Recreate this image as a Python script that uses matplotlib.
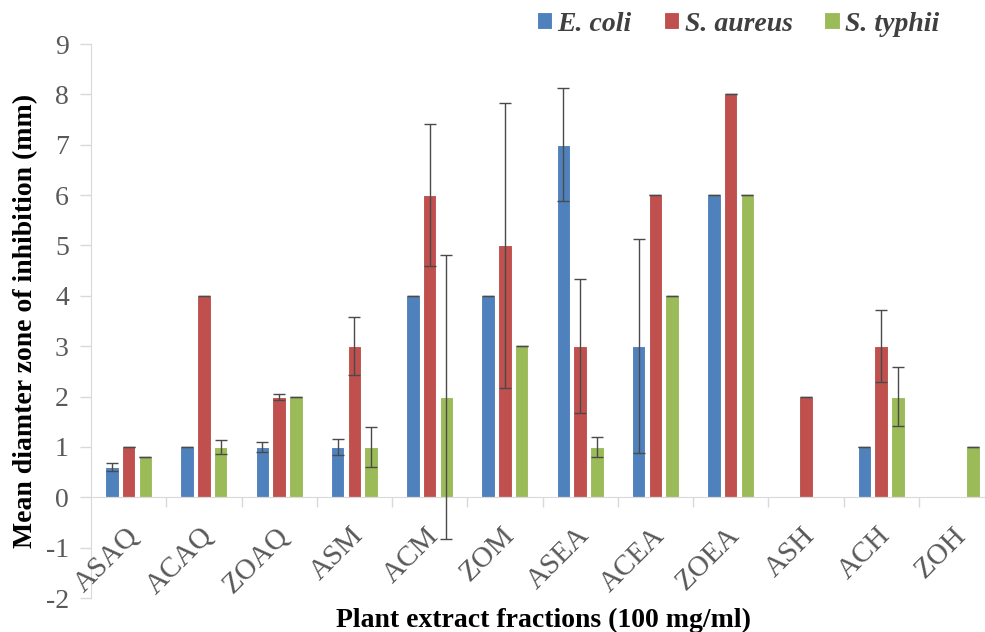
import numpy as np
import matplotlib
matplotlib.use('Agg')
import matplotlib.pyplot as plt

# data
fractions = ['ASAQ', 'ACAQ', 'ZOAQ', 'ASM', 'ACM', 'ZOM', 'ASEA', 'ACEA', 'ZOEA', 'ASH', 'ACH', 'ZOH']
series = ['E. coli', 'S. aureus', 'S. typhii']
e_coli = [0.6, 1, 1, 1, 4, 4, 7, 3, 6, 0, 1, 0]
s_aureus = [1, 4, 2, 3, 6, 5, 3, 6, 8, 2, 3, 0]
s_typhii = [0.8, 1, 2, 1, 2, 3, 1, 4, 6, 0, 2, 1]
e_coli_err = [0.08, 0, 0.1, 0.16, 0, 0, 1.12, 2.12, 0, 0, 0, 0]
s_aureus_err = [0, 0, 0.06, 0.58, 1.41, 2.83, 1.33, 0, 0, 0, 0.71, 0]
s_typhii_err = [0, 0.14, 0, 0.4, 2.82, 0, 0.2, 0, 0, 0, 0.59, 0]

colors = ['#4F81BD', '#C0504D', '#9BBB59']
values = [e_coli, s_aureus, s_typhii]
errors = [e_coli_err, s_aureus_err, s_typhii_err]

plt.rcParams['font.family'] = ['Liberation Serif', 'DejaVu Serif']
plt.rcParams['axes.unicode_minus'] = False

fig = plt.figure(figsize=(9.85, 6.32), dpi=100)
ax = fig.add_axes([91/985, 1-598/632, 903/985, (598-44)/632])

x = np.arange(len(fractions))
width = 0.18
offsets = [-0.222, 0, 0.222]
for vals, errs, col, off, name in zip(values, errors, colors, offsets, series):
    vals = np.array(vals, dtype=float)
    errs = np.array(errs, dtype=float)
    ax.bar(x + off, vals, width, color=col, edgecolor='white', linewidth=0.8, label=name, zorder=2)
    keep = vals != 0
    ax.errorbar((x + off)[keep], vals[keep], yerr=errs[keep], fmt='none', ecolor='#4a4a4a',
                elinewidth=1, capsize=4, capthick=1, zorder=3)

ax.set_xlim(-0.5, len(fractions) - 0.5)
ax.set_ylim(-2, 9)
ax.set_yticks(range(-2, 10))
ax.tick_params(axis='y', labelsize=20, labelcolor='#595959', color='#D9D9D9', length=8, width=1, pad=8)

ax.spines['top'].set_visible(False)
ax.spines['right'].set_visible(False)
ax.spines['left'].set_color('#D9D9D9')
ax.spines['bottom'].set_position(('data', 0))
ax.spines['bottom'].set_color('#D9D9D9')
ax.set_xticks(np.arange(0.5, len(fractions) - 0.5, 1))
ax.set_xticklabels([])
ax.tick_params(axis='x', color='#D9D9D9', length=7, width=1, direction='out')

for i, name in enumerate(fractions):
    ax.text(i - 0.05, -0.5, name, rotation=45, ha='right', va='top', rotation_mode='anchor',
            fontsize=21, color='#595959')

ax.set_ylabel('Mean diamter zone of inhibition (mm)', fontsize=20, fontweight='bold')
ax.yaxis.set_label_coords(-0.059, 0.50)
fig.text(543/985, 1-620/632, 'Plant extract fractions (100 mg/ml)', ha='center', va='center',
         fontsize=20, fontweight='bold')

fig.legend(loc='upper left', bbox_to_anchor=(520/985, 1+5/632), ncol=3, frameon=False,
           borderpad=0.1, handlelength=0.55, handleheight=0.55, handletextpad=0.2,
           columnspacing=1.15,
           prop={'size': 20, 'weight': 'bold', 'style': 'italic'}, labelcolor='#404040')

fig.savefig('out.png', dpi=100)
